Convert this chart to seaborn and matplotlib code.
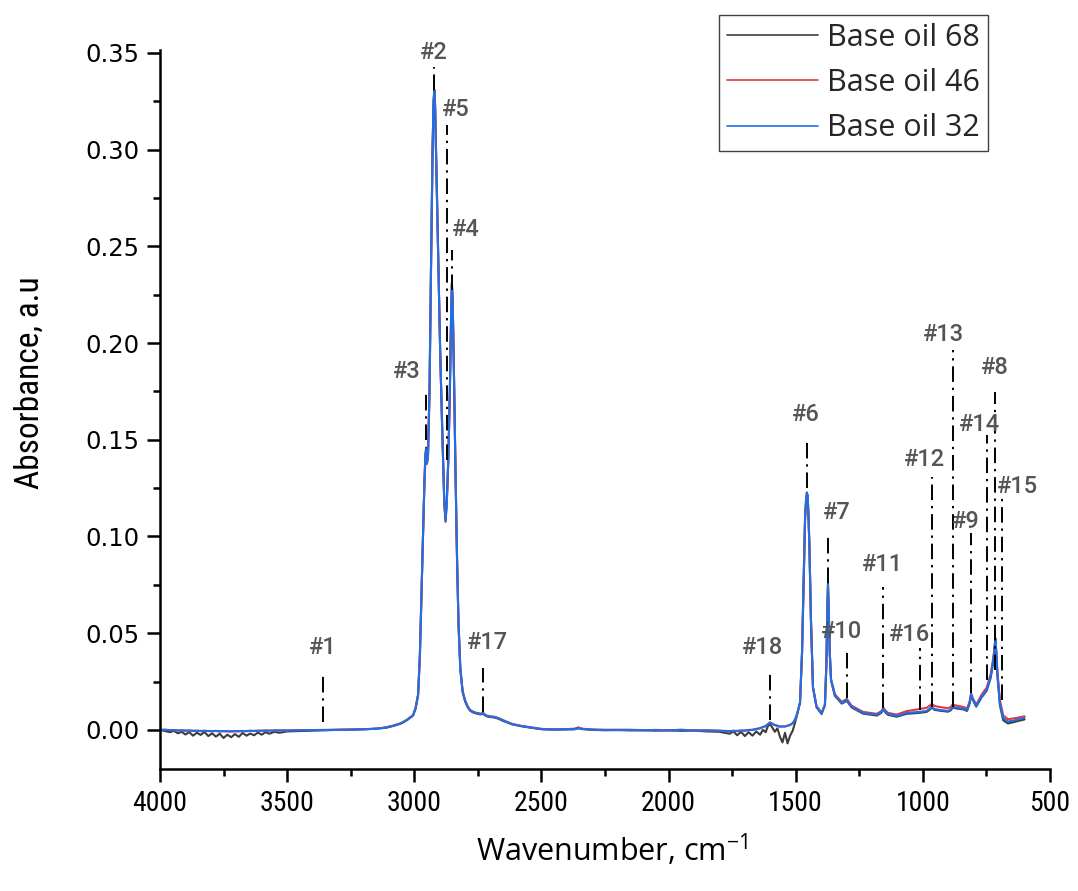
"""FTIR spectra of three base oils with numbered band assignments."""

import matplotlib

matplotlib.use("Agg")
import matplotlib.pyplot as plt
import pandas as pd
import seaborn as sns
from matplotlib import font_manager
from matplotlib.ticker import MultipleLocator

SAMPLES = ["Base oil 68", "Base oil 46", "Base oil 32"]
COLORS = {"Base oil 68": "#3d3d3d", "Base oil 46": "#e8383d", "Base oil 32": "#1f6fe8"}

# 4000-3150 cm-1, flat baseline (oil 68 noisy)
WN_1 = [4000, 3980, 3960, 3945, 3930, 3915, 3900, 3885, 3870, 3855, 3840, 3825, 3810,
        3795, 3780, 3765, 3750, 3735, 3720, 3705, 3690, 3675, 3660, 3645, 3630, 3615,
        3600, 3585, 3570, 3550, 3530, 3500, 3450, 3400, 3350, 3300, 3250, 3200, 3150]
A68_1 = [0.0000, -0.0006, -0.0012, -0.0005, -0.0018, -0.0010, -0.0024, -0.0012, -0.0030,
         -0.0015, -0.0026, -0.0011, -0.0032, -0.0018, -0.0035, -0.0020, -0.0042, -0.0025,
         -0.0038, -0.0022, -0.0036, -0.0016, -0.0030, -0.0019, -0.0028, -0.0014, -0.0025,
         -0.0012, -0.0020, -0.0010, -0.0015, -0.0008, -0.0006, -0.0004, -0.0002, 0.0000,
         0.0001, 0.0003, 0.0006]
A46_1 = [0.0000, 0.0001, -0.0002, -0.0001, -0.0004, -0.0002, -0.0005, -0.0003, -0.0006,
         -0.0004, -0.0007, -0.0005, -0.0006, -0.0008, -0.0005, -0.0009, -0.0006, -0.0008,
         -0.0009, -0.0007, -0.0008, -0.0006, -0.0007, -0.0005, -0.0006, -0.0004, -0.0005,
         -0.0003, -0.0004, -0.0003, -0.0002, -0.0003, -0.0001, -0.0001, 0.0000, 0.0001,
         0.0002, 0.0003, 0.0006]
A32_1 = [0.0000, 0.0000, -0.0001, -0.0002, -0.0002, -0.0003, -0.0003, -0.0004, -0.0004,
         -0.0005, -0.0005, -0.0005, -0.0006, -0.0006, -0.0006, -0.0007, -0.0007, -0.0007,
         -0.0007, -0.0007, -0.0006, -0.0006, -0.0006, -0.0005, -0.0005, -0.0005, -0.0004,
         -0.0004, -0.0004, -0.0003, -0.0003, -0.0003, -0.0002, -0.0001, -0.0001, 0.0000,
         0.0001, 0.0003, 0.0006]

# C-H stretching region
WN_2 = [3111, 3080, 3052, 3030, 3005, 2995, 2985, 2978, 2972, 2966, 2960, 2956, 2953,
        2950, 2946, 2940, 2934, 2928, 2924, 2921, 2918, 2913, 2906, 2898, 2890, 2882,
        2877, 2872, 2866, 2860, 2855, 2852, 2849, 2844, 2838, 2832, 2826, 2819, 2810,
        2800, 2790, 2781, 2770, 2760, 2750, 2740, 2734, 2730, 2725, 2715, 2700, 2685,
        2670, 2650, 2616]
A68_2 = [0.0011, 0.0021, 0.0033, 0.0049, 0.0074, 0.0109, 0.0178, 0.0378, 0.0685, 0.1010,
         0.1290, 0.1430, 0.1460, 0.1385, 0.1425, 0.1760, 0.2410, 0.3010, 0.3260, 0.3310,
         0.3230, 0.2905, 0.2455, 0.1955, 0.1555, 0.1185, 0.1085, 0.1185, 0.1405, 0.1755,
         0.2160, 0.2310, 0.2230, 0.1855, 0.1350, 0.0895, 0.0545, 0.0315, 0.0196, 0.0147,
         0.0118, 0.0100, 0.0091, 0.0086, 0.0083, 0.0080, 0.0081, 0.0089, 0.0078, 0.0070,
         0.0066, 0.0064, 0.0058, 0.0046, 0.0029]
A46_2 = [0.0013, 0.0023, 0.0035, 0.0051, 0.0076, 0.0112, 0.0183, 0.0385, 0.0675, 0.0990,
         0.1270, 0.1410, 0.1440, 0.1375, 0.1410, 0.1740, 0.2390, 0.2990, 0.3240, 0.3290,
         0.3210, 0.2895, 0.2445, 0.1945, 0.1545, 0.1175, 0.1075, 0.1175, 0.1395, 0.1745,
         0.2140, 0.2290, 0.2210, 0.1845, 0.1350, 0.0905, 0.0555, 0.0325, 0.0204, 0.0153,
         0.0122, 0.0104, 0.0095, 0.0090, 0.0087, 0.0084, 0.0085, 0.0091, 0.0082, 0.0074,
         0.0070, 0.0068, 0.0062, 0.0050, 0.0031]
A32_2 = [0.0012, 0.0022, 0.0034, 0.0050, 0.0075, 0.0110, 0.0180, 0.0380, 0.0680, 0.1000,
         0.1280, 0.1420, 0.1450, 0.1380, 0.1420, 0.1750, 0.2400, 0.3000, 0.3250, 0.3300,
         0.3220, 0.2900, 0.2450, 0.1950, 0.1550, 0.1180, 0.1080, 0.1180, 0.1400, 0.1750,
         0.2150, 0.2300, 0.2220, 0.1850, 0.1350, 0.0900, 0.0550, 0.0320, 0.0200, 0.0150,
         0.0120, 0.0102, 0.0093, 0.0088, 0.0085, 0.0082, 0.0083, 0.0090, 0.0080, 0.0072,
         0.0068, 0.0066, 0.0060, 0.0048, 0.0030]

# 2580-1800 cm-1 baseline
WN_3 = [2580, 2541, 2498, 2450, 2400, 2370, 2355, 2340, 2300, 2250, 2200, 2150, 2100,
        2050, 2000, 1950, 1900, 1850, 1800]
A68_3 = [0.0019, 0.0011, 0.0003, 0.0001, 0.0002, 0.0003, 0.0008, 0.0004, 0.0000, -0.0002,
         -0.0001, -0.0003, -0.0002, -0.0004, -0.0003, -0.0005, -0.0004, -0.0008, -0.0010]
A46_3 = [0.0021, 0.0013, 0.0005, 0.0003, 0.0004, 0.0006, 0.0013, 0.0006, 0.0002, 0.0000,
         0.0001, 0.0000, -0.0003, 0.0000, -0.0003, 0.0001, -0.0004, -0.0002, -0.0005]
A32_3 = [0.0020, 0.0012, 0.0004, 0.0002, 0.0003, 0.0004, 0.0010, 0.0005, 0.0001, 0.0000,
         -0.0001, 0.0000, -0.0001, -0.0002, -0.0002, -0.0001, -0.0002, -0.0003, -0.0004]

# 1760-1495 cm-1 (oil 68 noisy)
WN_4 = [1760, 1745, 1730, 1715, 1700, 1685, 1670, 1655, 1640, 1629, 1618, 1610, 1601,
        1592, 1582, 1572, 1562, 1552, 1542, 1532, 1522, 1512, 1503, 1495]
A68_4 = [-0.0020, -0.0008, -0.0028, -0.0010, -0.0032, -0.0012, -0.0030, -0.0008, -0.0025,
         0.0000, -0.0012, 0.0018, 0.0030, 0.0012, -0.0010, 0.0008, -0.0035, -0.0065,
         -0.0015, -0.0070, -0.0030, -0.0005, 0.0035, 0.0075]
A46_4 = [-0.0008, -0.0004, -0.0007, -0.0003, -0.0005, 0.0000, -0.0001, 0.0005, 0.0008,
         0.0015, 0.0019, 0.0029, 0.0039, 0.0031, 0.0024, 0.0022, 0.0016, 0.0018, 0.0017,
         0.0022, 0.0025, 0.0035, 0.0051, 0.0081]
A32_4 = [-0.0006, -0.0006, -0.0005, -0.0004, -0.0003, -0.0001, 0.0001, 0.0004, 0.0009,
         0.0014, 0.0020, 0.0028, 0.0038, 0.0032, 0.0025, 0.0021, 0.0018, 0.0017, 0.0018,
         0.0021, 0.0026, 0.0034, 0.0052, 0.0080]

# fingerprint region
WN_5 = [1483, 1475, 1468, 1463, 1459, 1456, 1453, 1450, 1446, 1440, 1432, 1418, 1398,
        1385, 1379, 1376, 1373, 1370, 1366, 1361, 1346, 1319, 1299, 1280, 1235, 1181,
        1163, 1155, 1147, 1137, 1103, 1064, 1011, 985, 972, 965, 955, 933, 901, 890,
        883, 870, 841, 826, 816, 810, 804, 790, 769, 749, 733, 723, 718, 715, 711, 707,
        697, 684, 665, 631, 600]
A68_5 = [0.0142, 0.0405, 0.0805, 0.1105, 0.1195, 0.1228, 0.1212, 0.1122, 0.0952, 0.0572,
         0.0218, 0.0117, 0.0082, 0.0128, 0.0352, 0.0605, 0.0755, 0.0622, 0.0398, 0.0256,
         0.0176, 0.0136, 0.0150, 0.0116, 0.0084, 0.0074, 0.0088, 0.0106, 0.0090, 0.0078,
         0.0068, 0.0083, 0.0088, 0.0093, 0.0105, 0.0116, 0.0104, 0.0099, 0.0094, 0.0101,
         0.0116, 0.0111, 0.0106, 0.0098, 0.0136, 0.0182, 0.0156, 0.0120, 0.0168, 0.0202,
         0.0270, 0.0352, 0.0412, 0.0468, 0.0392, 0.0285, 0.0128, 0.0050, 0.0033, 0.0044,
         0.0054]
A46_5 = [0.0138, 0.0395, 0.0790, 0.1090, 0.1180, 0.1210, 0.1200, 0.1110, 0.0945, 0.0565,
         0.0222, 0.0123, 0.0089, 0.0132, 0.0345, 0.0590, 0.0740, 0.0612, 0.0398, 0.0262,
         0.0184, 0.0145, 0.0160, 0.0125, 0.0093, 0.0083, 0.0097, 0.0114, 0.0100, 0.0088,
         0.0079, 0.0097, 0.0108, 0.0114, 0.0126, 0.0135, 0.0124, 0.0118, 0.0112, 0.0118,
         0.0131, 0.0126, 0.0119, 0.0110, 0.0146, 0.0188, 0.0165, 0.0131, 0.0182, 0.0218,
         0.0290, 0.0372, 0.0425, 0.0470, 0.0402, 0.0305, 0.0155, 0.0075, 0.0055, 0.0062,
         0.0070]
A32_5 = [0.0140, 0.0400, 0.0800, 0.1100, 0.1190, 0.1225, 0.1210, 0.1120, 0.0950, 0.0570,
         0.0220, 0.0120, 0.0085, 0.0130, 0.0350, 0.0600, 0.0750, 0.0620, 0.0400, 0.0260,
         0.0180, 0.0140, 0.0155, 0.0120, 0.0088, 0.0078, 0.0092, 0.0110, 0.0095, 0.0083,
         0.0072, 0.0088, 0.0093, 0.0098, 0.0110, 0.0120, 0.0108, 0.0103, 0.0098, 0.0105,
         0.0120, 0.0115, 0.0110, 0.0103, 0.0140, 0.0186, 0.0160, 0.0124, 0.0172, 0.0207,
         0.0276, 0.0360, 0.0420, 0.0476, 0.0400, 0.0295, 0.0140, 0.0062, 0.0043, 0.0052,
         0.0062]

# band markers: label, line position, line top / bottom, label position
PEAK_LABELS = ["#1", "#2", "#3", "#5", "#4", "#17", "#18", "#6", "#7", "#10", "#11",
               "#16", "#12", "#13", "#9", "#14", "#8", "#15"]
PEAK_WN = [3359, 2921, 2954, 2871, 2852, 2730, 1601, 1456, 1373, 1299, 1155, 1011, 965,
           883, 810, 749, 718, 690]
PEAK_TOP = [0.0284, 0.3428, 0.1748, 0.3128, 0.2480, 0.0320, 0.0300, 0.1500, 0.1019,
            0.0424, 0.0739, 0.0424, 0.1308, 0.1965, 0.1019, 0.1525, 0.1748, 0.1205]
PEAK_BOTTOM = [0.0041, 0.3310, 0.1500, 0.1396, 0.2275, 0.0093, 0.0052, 0.1250, 0.0760,
               0.0165, 0.0114, 0.0103, 0.0119, 0.0119, 0.0191, 0.0259, 0.0310, 0.0155]
LABEL_WN = [3359, 2925, 3029, 2836, 2797, 2714, 1632, 1460, 1338, 1318, 1157, 1054, 995,
            917, 830, 779, 716, 626]
LABEL_Y = [0.0424, 0.3505, 0.1851, 0.3206, 0.2585, 0.0450, 0.0424, 0.1630, 0.1122,
           0.0507, 0.0853, 0.0491, 0.1396, 0.2043, 0.1075, 0.1577, 0.1872, 0.1256]


def pick_font(candidates):
    names = {f.name for f in font_manager.fontManager.ttflist}
    for name in candidates:
        if name in names:
            return name
    return "DejaVu Sans"


def build_frame() -> pd.DataFrame:
    wn = WN_1 + WN_2 + WN_3 + WN_4 + WN_5
    series = {
        "Base oil 68": A68_1 + A68_2 + A68_3 + A68_4 + A68_5,
        "Base oil 46": A46_1 + A46_2 + A46_3 + A46_4 + A46_5,
        "Base oil 32": A32_1 + A32_2 + A32_3 + A32_4 + A32_5,
    }
    frames = [
        pd.DataFrame({"wavenumber": wn, "absorbance": values, "sample": name})
        for name, values in series.items()
    ]
    return pd.concat(frames, ignore_index=True)


def main() -> None:
    sns.set_theme(style="ticks")
    narrow = pick_font(["Liberation Sans Narrow", "Roboto Condensed", "Liberation Sans"])
    label_font = pick_font(["Open Sans", "Lato", "DejaVu Sans"])
    peak_font = pick_font(["Roboto", "DejaVu Sans"])
    plt.rcParams["font.family"] = ["DejaVu Sans"]
    plt.rcParams["mathtext.fontset"] = "custom"
    plt.rcParams["mathtext.rm"] = label_font
    plt.rcParams["mathtext.it"] = label_font
    plt.rcParams["mathtext.default"] = "regular"

    df = build_frame()

    fig = plt.figure(figsize=(10.78, 8.91), dpi=100)
    ax = fig.add_axes([0.1484, 0.137, 0.8256, 0.807])

    sns.lineplot(
        data=df,
        x="wavenumber",
        y="absorbance",
        hue="sample",
        hue_order=SAMPLES,
        palette=COLORS,
        sort=False,
        estimator=None,
        linewidth=1.5,
        ax=ax,
    )

    for i, label in enumerate(PEAK_LABELS):
        ax.plot([PEAK_WN[i], PEAK_WN[i]], [PEAK_BOTTOM[i], PEAK_TOP[i]], color="black",
                lw=1.4, dashes=(8, 3, 1.2, 3), clip_on=False, zorder=4)
        ax.text(LABEL_WN[i], LABEL_Y[i], label, ha="center", va="center", fontsize=17,
                fontweight="medium", color="#555555", family=peak_font, clip_on=False,
                zorder=5)

    ax.set_xlim(4000, 500)
    ax.set_ylim(-0.0202, 0.3516)
    ax.xaxis.set_major_locator(MultipleLocator(500))
    ax.xaxis.set_minor_locator(MultipleLocator(250))
    ax.yaxis.set_major_locator(MultipleLocator(0.05))
    ax.yaxis.set_minor_locator(MultipleLocator(0.025))
    ax.yaxis.set_major_formatter(matplotlib.ticker.FormatStrFormatter("%.2f"))

    sns.despine(ax=ax)
    for side in ("left", "bottom"):
        ax.spines[side].set_linewidth(1.8)
        ax.spines[side].set_color("black")
    ax.tick_params(which="major", direction="out", length=9.5, width=1.8, color="black")
    ax.tick_params(which="minor", direction="out", length=5, width=1.8, color="black")
    ax.tick_params(axis="y", labelsize=17.5, pad=5, labelcolor="black")
    ax.tick_params(axis="x", labelsize=20, pad=6, labelcolor="black")
    for lab in ax.get_xticklabels():
        lab.set_family(narrow)

    ax.set_xlabel("Wavenumber, cm$^{-1}$", fontsize=22, family=label_font, color="black")
    ax.set_ylabel("Absorbance, a.u", fontsize=24, family=narrow, color="black")
    ax.xaxis.set_label_coords(0.508, -0.088)
    ax.yaxis.set_label_coords(-0.129, 0.537)

    handles, labels = ax.get_legend_handles_labels()
    for h in handles:
        h.set_linewidth(1.2)
    ax.legend(
        handles,
        labels,
        loc="upper right",
        bbox_to_anchor=(0.9165, 0.983),
        bbox_transform=fig.transFigure,
        frameon=True,
        fancybox=False,
        edgecolor="#404040",
        framealpha=1,
        prop={"family": label_font, "size": 22},
        handlelength=3.0,
        handletextpad=0.3,
        labelspacing=0.5,
        borderpad=0.25,
        borderaxespad=0,
    )
    ax.get_legend().get_frame().set_linewidth(1.0)

    fig.savefig("out.png", dpi=100)
    plt.close(fig)


if __name__ == "__main__":
    main()
